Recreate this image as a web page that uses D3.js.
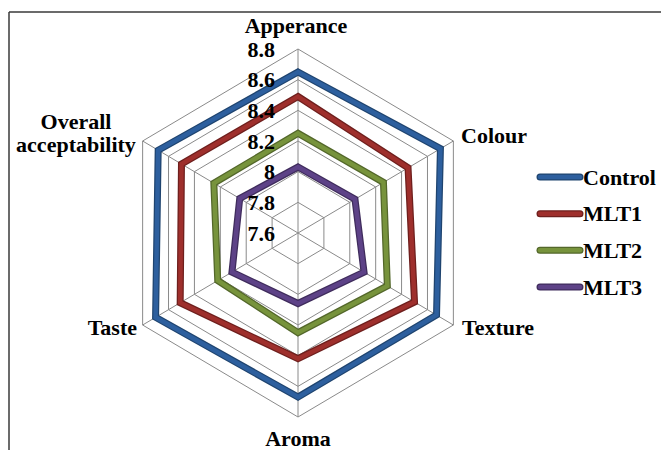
<!DOCTYPE html>
<html>
<head>
<meta charset="utf-8">
<script src="https://cdn.jsdelivr.net/npm/d3@7"></script>
<style>
  html, body { margin: 0; padding: 0; background: #fff; }
  svg { display: block; }
  text { font-family: "Liberation Serif", "Times New Roman", serif; font-weight: bold; fill: #000; }
</style>
</head>
<body>
<svg id="chart" width="661" height="450"></svg>
<script>
// ---- data ----
const categories = ["Apperance", "Colour", "Texture", "Aroma", "Taste", "Overall acceptability"];
const seriesNames = ["Control", "MLT1", "MLT2", "MLT3"];
const control = [8.65, 8.70, 8.67, 8.67, 8.70, 8.68];
const mlt1    = [8.49, 8.45, 8.50, 8.42, 8.51, 8.50];
const mlt2    = [8.25, 8.26, 8.29, 8.25, 8.22, 8.25];
const mlt3    = [8.03, 8.04, 8.11, 8.06, 8.11, 8.05];
const tickValues = [7.6, 7.8, 8.0, 8.2, 8.4, 8.6, 8.8];
const tickLabels = ["7.6", "7.8", "8", "8.2", "8.4", "8.6", "8.8"];

const seriesValues = [control, mlt1, mlt2, mlt3];
const colors = ["#2D5F9E", "#9E2F2C", "#77933C", "#5D4287"];
const darkColors = ["#1F446F", "#6E1F1D", "#53672A", "#3F2C5C"];

// ---- layout ----
const svg = d3.select("#chart");
const cx = 298, cy = 233, R = 184, xSquash = 0.975;
const FONT = '"Liberation Serif", "Times New Roman", serif';

// frame
svg.append("line").attr("x1", 9).attr("y1", 12).attr("x2", 661).attr("y2", 12)
  .attr("stroke", "#3a3a3a").attr("stroke-width", 1.5);
svg.append("line").attr("x1", 9).attr("y1", 12).attr("x2", 9).attr("y2", 450)
  .attr("stroke", "#3a3a3a").attr("stroke-width", 1.5);

const r = d3.scaleLinear().domain([7.6, 8.8]).range([0, R]);
const angle = d3.scalePoint().domain(d3.range(categories.length + 1)).range([0, 2 * Math.PI]);
const px = (i, v) => cx + xSquash * r(v) * Math.sin(angle(i));
const py = (i, v) => cy - r(v) * Math.cos(angle(i));

const g = svg.append("g");

// grid rings
tickValues.slice(1).forEach(t => {
  const pts = categories.map((c, i) => [px(i, t), py(i, t)]);
  g.append("polygon").attr("points", pts.map(p => p.join(",")).join(" "))
    .attr("fill", "none").attr("stroke", "#8a8a8a").attr("stroke-width", 1);
});
// spokes
categories.forEach((c, i) => {
  g.append("line").attr("x1", cx).attr("y1", cy)
    .attr("x2", px(i, 8.8)).attr("y2", py(i, 8.8))
    .attr("stroke", "#8a8a8a").attr("stroke-width", 1);
});

// series
const lineGen = d3.line().curve(d3.curveLinearClosed);
seriesValues.forEach((vals, s) => {
  const pts = vals.map((v, i) => [px(i, v), py(i, v)]);
  g.append("path").attr("d", lineGen(pts)).attr("fill", "none")
    .attr("stroke", darkColors[s]).attr("stroke-width", 7).attr("stroke-linejoin", "miter");
  g.append("path").attr("d", lineGen(pts)).attr("fill", "none")
    .attr("stroke", colors[s]).attr("stroke-width", 4.5).attr("stroke-linejoin", "miter");
});

// radial tick labels via axis
const yAxisScale = d3.scaleLinear().domain([7.6, 8.8]).range([cy, cy - R]);
const axis = d3.axisLeft(yAxisScale).tickValues(tickValues)
  .tickFormat((d, i) => tickLabels[i]).tickSize(0).tickPadding(23);
const ax = svg.append("g").attr("transform", `translate(${cx},0)`).call(axis);
ax.attr("font-family", FONT).attr("font-size", 22);
ax.select(".domain").remove();
ax.selectAll("text").attr("font-size", 22).attr("font-family", FONT)
  .attr("font-weight", "bold").attr("fill", "#000");

// category labels
const labelPos = [
  { x: 296, y: 33, anchor: "middle" },
  { x: 461, y: 143, anchor: "start" },
  { x: 462, y: 335, anchor: "start" },
  { x: 298, y: 446, anchor: "middle" },
  { x: 137, y: 335, anchor: "end" },
  { x: 76, y: 129, anchor: "middle" }
];
categories.forEach((c, i) => {
  const p = labelPos[i];
  if (c === "Overall acceptability") {
    svg.append("text").attr("x", p.x).attr("y", p.y)
      .attr("text-anchor", p.anchor).attr("font-size", 22).text("Overall");
    svg.append("text").attr("x", p.x).attr("y", p.y + 23)
      .attr("text-anchor", p.anchor).attr("font-size", 22).text("acceptability");
  } else {
    svg.append("text").attr("x", p.x).attr("y", p.y)
      .attr("text-anchor", p.anchor).attr("font-size", 22).text(c);
  }
});

// legend
const legY = d3.scalePoint().domain(seriesNames).range([177, 287]);
seriesNames.forEach((n, s) => {
  const y = legY(n);
  svg.append("line").attr("x1", 540).attr("x2", 580).attr("y1", y).attr("y2", y)
    .attr("stroke", darkColors[s]).attr("stroke-width", 7).attr("stroke-linecap", "round");
  svg.append("line").attr("x1", 540).attr("x2", 580).attr("y1", y).attr("y2", y)
    .attr("stroke", colors[s]).attr("stroke-width", 4.5).attr("stroke-linecap", "round");
  svg.append("text").attr("x", 583).attr("y", y).attr("dy", "0.35em")
    .attr("font-size", 22).text(n);
});
</script>
</body>
</html>
